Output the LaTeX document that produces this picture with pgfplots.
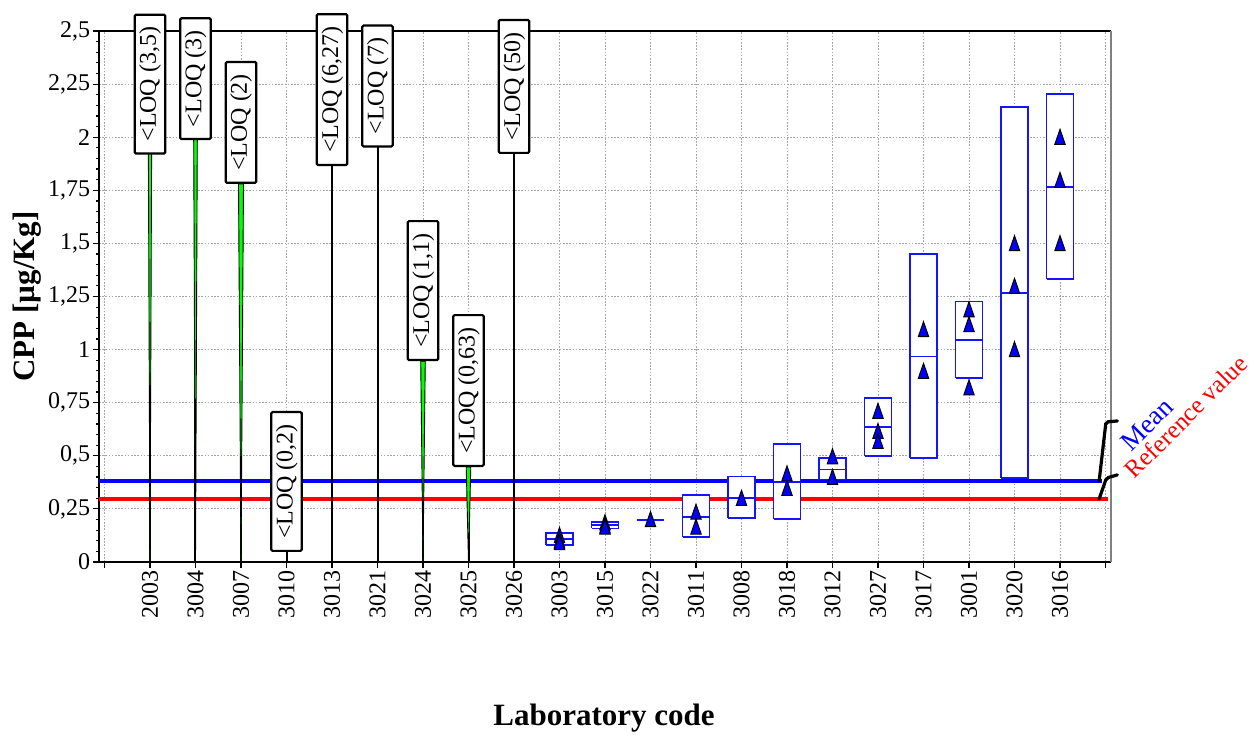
\documentclass[border=0pt]{standalone}
\usepackage{fontspec}
\setmainfont{Liberation Serif}
\usepackage{pgfplots}
\pgfplotsset{compat=1.18}
\definecolor{boxblue}{RGB}{20,20,255}

\tikzset{loq/.style={draw=black, line width=1.1pt, fill=white, rotate=90, anchor=west,
    font=\fontsize{12}{14}\selectfont, inner xsep=6pt, inner ysep=2pt,
    text height=8.6pt, text depth=2.6pt, rounded corners=0.6pt}}

\begin{document}
\begin{tikzpicture}
\begin{axis}[
  scale only axis, width=506pt, height=265.5pt,
  xmin=-0.12, xmax=22.12, ymin=0, ymax=2.5,
  clip=false,
  unbounded coords=jump,
  axis lines*=left,
  axis line style={-, line width=1.2pt, black},
  tick align=outside,
  xtick={0,...,22},
  xticklabels={{},2003,3004,3007,3010,3013,3021,3024,3025,3026,3003,3015,3022,3011,3008,3018,3012,3027,3017,3001,3020,3016,{}},
  ytick={0,0.25,0.5,0.75,1,1.25,1.5,1.75,2,2.25,2.5},
  minor y tick num=4,
  grid=major,
  major grid style={gray!70, line width=0.5pt, dash pattern=on 0.8pt off 0.8pt},
  major tick length=2.8pt, minor tick length=1.6pt,
  tick style={black, line width=0.6pt},
  ticklabel style={font=\fontsize{12}{14}\selectfont},
  xticklabel style={rotate=90, anchor=east, inner sep=1.5pt},
  yticklabel style={inner sep=1.5pt},
  /pgf/number format/use comma,
  /pgf/number format/assume math mode=true,
  xlabel={Laboratory code},
  ylabel={CPP [µg/Kg]},
  label style={font=\fontsize{15.5}{18}\selectfont\bfseries},
  xlabel style={at={(axis description cs:0.499,-0.294)}, anchor=center},
  ylabel style={at={(axis description cs:-0.0711,0.5)}, anchor=center},
]
\draw[black, line width=0.6pt] (rel axis cs:0,1) -- (rel axis cs:1,1);
\draw[gray, line width=1.2pt] (rel axis cs:1,0) -- (rel axis cs:1,1);

% mean and reference value
\addplot[color=blue, line width=2pt] coordinates {(-0.12,0.38) (21.93,0.38)};
\addplot[color=red, line width=2pt] coordinates {(-0.12,0.297) (22.06,0.297)};

% results below LOQ: line up to the LOQ
\addplot[color=black, line width=1pt] table {
x y
1 0
1 1.949
nan nan
2 0
2 2.001
nan nan
3 0
3 1.78
nan nan
4 0
4 0.047
nan nan
5 0
5 1.864
nan nan
6 0
6 1.973
nan nan
7 0
7 0.946
nan nan
8 0
8 0.447
nan nan
9 0
9 1.921
};
% green wedges
\addplot[color=black, fill=green, line width=0.45pt] table {
x y
0.964 1.949
1 0
1.036 1.949
0.964 1.949
nan nan
1.96 2.001
2 0
2.04 2.001
1.96 2.001
nan nan
2.945 1.78
3 0
3.055 1.78
2.945 1.78
nan nan
6.95 0.946
7 0
7.05 0.946
6.95 0.946
nan nan
7.95 0.447
8 0
8.05 0.447
7.95 0.447
};

\node[loq, xshift=-3.3pt] at (axis cs:1,1.949) {<LOQ (3,5)};
\node[loq, xshift=-1.6pt] at (axis cs:2,2.001) {<LOQ (3)};
\node[loq] at (axis cs:3,1.78) {<LOQ (2)};
\node[loq] at (axis cs:4,0.047) {<LOQ (0,2)};
\node[loq] at (axis cs:5,1.864) {<LOQ (6,27)};
\node[loq, xshift=-2.3pt] at (axis cs:6,1.973) {<LOQ (7)};
\node[loq] at (axis cs:7,0.946) {<LOQ (1,1)};
\node[loq] at (axis cs:8,0.447) {<LOQ (0,63)};
\node[loq] at (axis cs:9,1.921) {<LOQ (50)};

% quantified results: boxes (low to high)
\addplot[color=boxblue, fill=white, line width=0.9pt] table {
x y
9.705 0.080
10.295 0.080
10.295 0.135
9.705 0.135
9.705 0.080
nan nan
10.705 0.158
11.295 0.158
11.295 0.190
10.705 0.190
10.705 0.158
nan nan
11.705 0.196
12.295 0.196
nan nan
12.705 0.119
13.295 0.119
13.295 0.314
12.705 0.314
12.705 0.119
nan nan
13.705 0.206
14.295 0.206
14.295 0.402
13.705 0.402
13.705 0.206
nan nan
14.705 0.201
15.295 0.201
15.295 0.554
14.705 0.554
14.705 0.201
nan nan
15.705 0.388
16.295 0.388
16.295 0.488
15.705 0.488
15.705 0.388
nan nan
16.705 0.499
17.295 0.499
17.295 0.771
16.705 0.771
16.705 0.499
nan nan
17.705 0.488
18.295 0.488
18.295 1.450
17.705 1.450
17.705 0.488
nan nan
18.705 0.865
19.295 0.865
19.295 1.226
18.705 1.226
18.705 0.865
nan nan
19.705 0.397
20.295 0.397
20.295 2.141
19.705 2.141
19.705 0.397
nan nan
20.705 1.331
21.295 1.331
21.295 2.205
20.705 2.205
20.705 1.331
};
% medians
\addplot[color=boxblue, line width=0.9pt] table {
x y
9.705 0.108
10.295 0.108
nan nan
10.705 0.174
11.295 0.174
nan nan
12.705 0.210
13.295 0.210
nan nan
13.705 0.300
14.295 0.300
nan nan
14.705 0.375
15.295 0.375
nan nan
15.705 0.435
16.295 0.435
nan nan
16.705 0.634
17.295 0.634
nan nan
17.705 0.967
18.295 0.967
nan nan
18.705 1.044
19.295 1.044
nan nan
19.705 1.265
20.295 1.265
nan nan
20.705 1.764
21.295 1.764
};
% replicate results
\addplot[only marks, mark=triangle*, mark size=5pt,
  mark options={fill=blue, draw=black, line width=0.5pt, xscale=0.6}] table {
x y
10 0.115
10 0.090
10 0.082
11 0.175
11 0.160
11 0.155
12 0.190
13 0.225
13 0.155
14 0.290
15 0.405
15 0.337
16 0.486
16 0.389
17 0.700
17 0.605
17 0.558
18 1.084
18 0.888
19 1.178
19 1.108
19 0.810
20 1.489
20 1.288
20 0.990
21 1.990
21 1.787
21 1.489
};

% legend for the two lines
\draw[black, line width=1.6pt, line cap=round, rounded corners=1pt]
  (axis cs:21.86,0.297) -- (axis cs:22.02,0.395) -- (axis cs:22.26,0.41);
\draw[black, line width=1.6pt, line cap=round, rounded corners=1pt]
  (axis cs:21.86,0.381) -- (axis cs:22.01,0.659) -- (axis cs:22.26,0.664);
\node[rotate=45, anchor=base west, text=blue, inner sep=0pt,
  font=\fontsize{13.5}{15}\selectfont] at (axis cs:22.56,0.515) {Mean};
\node[rotate=45, anchor=base west, text=red, inner sep=0pt,
  font=\fontsize{12.5}{14}\selectfont] at (axis cs:22.64,0.386) {Reference value};

\coordinate (bbBL) at (axis cs:-2.2967,-0.8192);
\coordinate (bbTR) at (axis cs:25.3297,2.6460);
\end{axis}
\pgfresetboundingbox
\useasboundingbox (bbBL) rectangle (bbTR);
\end{tikzpicture}
\end{document}
